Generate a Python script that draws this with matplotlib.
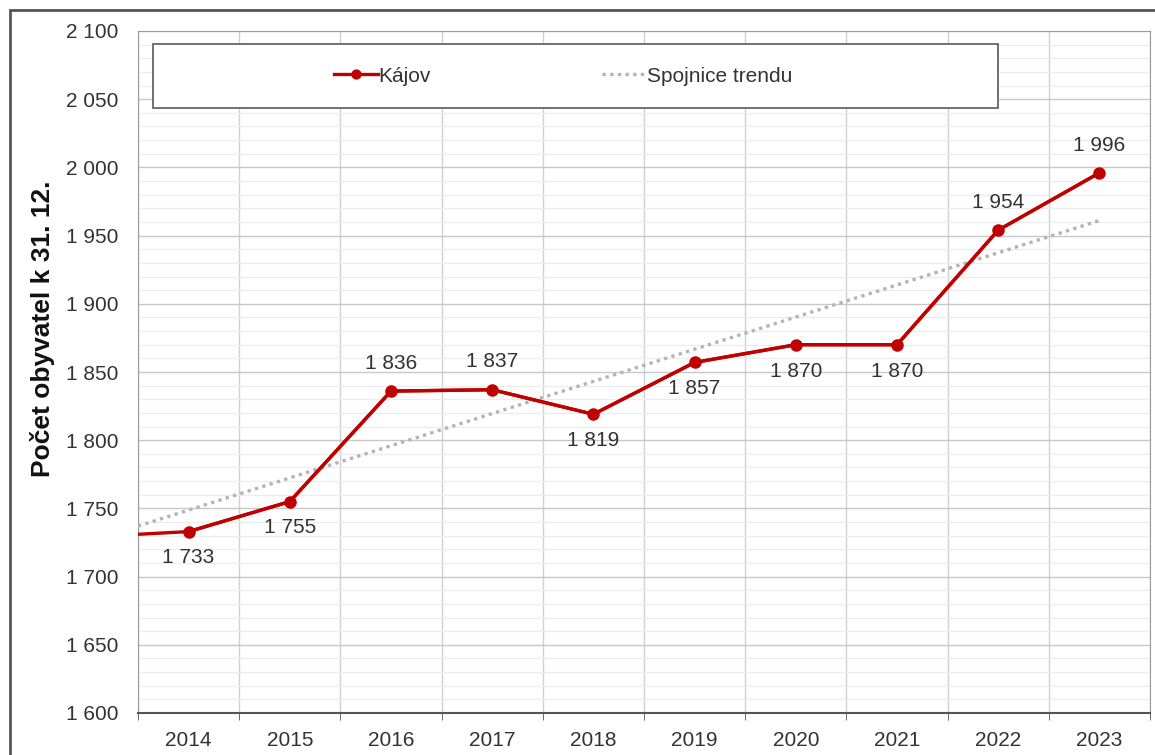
import numpy as np
import matplotlib.pyplot as plt
from matplotlib.patches import Rectangle
from matplotlib.ticker import MultipleLocator, FuncFormatter

plt.rcParams['font.family'] = ['Liberation Sans', 'DejaVu Sans']

years = ["2014", "2015", "2016", "2017", "2018", "2019", "2020", "2021", "2022", "2023"]
population = [1733, 1755, 1836, 1837, 1819, 1857, 1870, 1870, 1954, 1996]
prev_population = 1729  # 2013, only the tail of it is visible at the left edge
label_above = [False, False, True, True, False, False, False, False, True, True]
# trend line: left edge of the plot and 2023
trend_pos = [-0.5, 9]
trend_values = [1737, 1961]

RED = "#C00000"
TEXT = "#333333"

fig = plt.figure(figsize=(11.55, 7.55), dpi=100)
W, H = 1155, 755
ax = fig.add_axes([138 / W, 1 - 713 / H, (1150 - 138) / W, (713 - 31) / H])

# outer chart frame
fig.patches.append(Rectangle((10 / W, -0.05), 1.2, 1 - 10 / H + 0.05, transform=fig.transFigure,
                             fill=False, edgecolor="#555555", linewidth=2.0))

x = np.arange(len(years))
ax.plot(trend_pos, trend_values, color="#b4b4b4", linestyle=(0, (1, 1.3)), linewidth=2.4,
        label="Spojnice trendu", zorder=3)
ax.plot(np.concatenate([[-1], x]), [prev_population] + population, color=RED, linewidth=2.4,
        zorder=4)
ax.plot(x, population, color=RED, linewidth=2.4, marker="o", markersize=8, label="Kájov", zorder=5)

for xi, v, up in zip(x, population, label_above):
    txt = f"{v:,}".replace(",", " ")
    ax.annotate(txt, (xi, v), xytext=(0, 20 if up else -19), textcoords="offset points",
                ha="center", va="center", fontsize=15, color=TEXT)

ax.set_xlim(-0.5, len(years) - 0.5)
ax.set_ylim(1600, 2100)
ax.set_xticks(x)
ax.set_xticklabels(years)
ax.set_xticks(np.arange(-0.5, len(years), 1), minor=True)
ax.tick_params(axis="x", which="major", length=0, labelsize=15, labelcolor=TEXT, pad=13)
ax.tick_params(axis="x", which="minor", length=5, color="#555555", direction="out")
ax.yaxis.set_major_locator(MultipleLocator(50))
ax.yaxis.set_minor_locator(MultipleLocator(10))
ax.yaxis.set_major_formatter(FuncFormatter(lambda v, p: f"{int(v):,}".replace(",", " ")))
ax.tick_params(axis="y", which="both", length=0, labelsize=15, labelcolor=TEXT, pad=14)

ax.grid(axis="y", which="major", color="#c8c8c8", linewidth=1.0)
ax.grid(axis="y", which="minor", color="#ececec", linewidth=0.9)
ax.grid(axis="x", which="minor", color="#d0d0d0", linewidth=1.0)
ax.set_axisbelow(True)
for side in ["top", "right", "left"]:
    ax.spines[side].set_color("#9a9a9a")
ax.spines["bottom"].set_color("#555555")
ax.spines["bottom"].set_linewidth(1.5)

fig.text(43 / W, 1 - 329 / H, "Počet obyvatel k 31. 12.", rotation=90, ha="center", va="center",
         fontsize=19, fontweight="bold", color="#111111")

# legend box
bx0, bx1, by0, by1 = 153, 998, 44, 108
box = Rectangle((bx0 / W, 1 - by1 / H), (bx1 - bx0) / W, (by1 - by0) / H, transform=fig.transFigure,
                facecolor="white", edgecolor="#666666", linewidth=1.3, zorder=6)
fig.patches.append(box)
handles, labels = ax.get_legend_handles_labels()
leg = fig.legend(handles[::-1], labels[::-1], loc="center", ncol=2, frameon=False,
                 bbox_to_anchor=(563 / W, 1 - (by0 + by1) / 2 / H),
                 fontsize=15, handlelength=2.1, handletextpad=0.05, columnspacing=8.2,
                 markerscale=0.8)
leg.set_zorder(7)
for t in leg.get_texts():
    t.set_color(TEXT)

fig.savefig("out.png", dpi=100)
